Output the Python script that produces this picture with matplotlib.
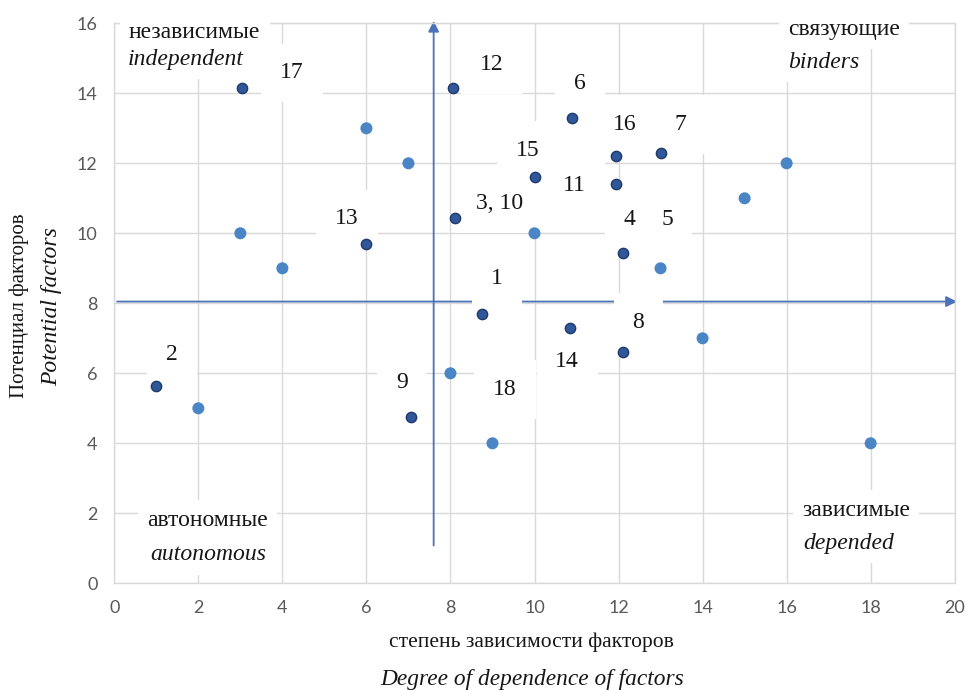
import matplotlib
matplotlib.use("Agg")
from matplotlib import pyplot as plt

# light points (plain markers)
light_x = [2, 3, 4, 6, 7, 8, 9, 10, 13, 14, 15, 16, 18]
light_y = [5, 10, 9, 13, 12, 6, 4, 10, 9, 7, 11, 12, 4]

# dark points (numbered factors)
dark_x = [1.0, 3.05, 8.05, 10.9, 11.95, 13.0, 10.0, 11.95, 8.1, 6.0, 12.1, 8.75, 10.85, 12.1, 7.05]
dark_y = [5.65, 14.15, 14.15, 13.3, 12.2, 12.3, 11.6, 11.4, 10.45, 9.7, 9.45, 7.7, 7.3, 6.6, 4.75]

# number labels
label_text = ['2', '17', '12', '6', '16', '7', '15', '11', '3, 10', '13', '4', '5', '1', '8', '14', '18', '9']
label_x = [1.37, 4.23, 8.99, 11.08, 12.15, 13.46, 9.85, 10.96, 9.17, 5.54, 12.26, 13.16, 9.10, 12.47, 10.78, 9.30, 6.84]
label_y = [6.55, 14.58, 14.81, 14.27, 13.10, 13.10, 12.36, 11.36, 10.84, 10.41, 10.38, 10.38, 8.71, 7.46, 6.35, 5.54, 5.74]

quad_ru = ['независимые', 'связующие', 'автономные', 'зависимые']
quad_en = ['independent', 'binders', 'autonomous', 'depended']

x_ticks = list(range(0, 21, 2))
y_ticks = list(range(0, 17, 2))

W, H = 967, 690
fig = plt.figure(figsize=(W / 100, H / 100), dpi=100)
ax = fig.add_axes([114.3 / W, 1 - 583.3 / H, 840.4 / W, 560.0 / H])

serif = 'Liberation Serif'
grid_c = '#d9d9d9'
txt_c = '#161616'

ax.set_xlim(0, 20)
ax.set_ylim(0, 16)
ax.set_xticks(x_ticks)
ax.set_yticks(y_ticks)
ax.grid(True, color=grid_c, linewidth=1.0, zorder=0)
ax.set_axisbelow(True)
for s in ax.spines.values():
    s.set_color(grid_c)
    s.set_linewidth(1.0)
ax.tick_params(length=0, pad=12, labelsize=13, labelcolor='#595959')
for lb in ax.get_xticklabels() + ax.get_yticklabels():
    lb.set_fontfamily('Lato')

# arrows
arr_c = '#4a72b8'
ax.annotate('', xy=(7.6, 16.15), xytext=(7.6, 1.0), annotation_clip=False,
            arrowprops=dict(arrowstyle='-|>', color=arr_c, lw=1.3, mutation_scale=16), zorder=2)
ax.annotate('', xy=(20.12, 8.05), xytext=(0, 8.05), annotation_clip=False,
            arrowprops=dict(arrowstyle='-|>', color=arr_c, lw=1.3, mutation_scale=16), zorder=2)

# number labels with white boxes
for t, lx, ly in zip(label_text, label_x, label_y):
    ax.text(lx, ly, t, ha='center', va='center', fontsize=17, family=serif, color=txt_c,
            bbox=dict(boxstyle='square,pad=0.8', fc='white', ec='none'), zorder=3)

ax.scatter(light_x, light_y, s=75, color='#4a86c6', edgecolors='none', zorder=5, clip_on=False)
ax.scatter(dark_x, dark_y, s=55, color='#30579a', edgecolors='#1d3a6b', linewidths=1.0, zorder=5)

# quadrant captions (pixel positions of left edges / centers)
quad_pos_ru = [(129, 33), (788, 29), (147, 520), (802, 510)]
quad_pos_en = [(128, 59), (788, 62), (150, 555), (803, 543)]
for t, (px, py) in zip(quad_ru, quad_pos_ru):
    fig.text(px / W, 1 - py / H, t, ha='left', va='center', fontsize=17, family=serif, color=txt_c,
             bbox=dict(boxstyle='square,pad=0.4', fc='white', ec='none'), zorder=6)
for t, (px, py) in zip(quad_en, quad_pos_en):
    fig.text(px / W, 1 - py / H, t, ha='left', va='center', fontsize=17, family=serif, style='italic',
             color=txt_c, bbox=dict(boxstyle='square,pad=0.4', fc='white', ec='none'), zorder=6)

# axis titles
fig.text(531 / W, 1 - 642 / H, 'степень зависимости факторов', ha='center', va='center',
         fontsize=15.5, family=serif, color=txt_c)
fig.text(532 / W, 1 - 679 / H, 'Degree of dependence of factors', ha='center', va='center',
         fontsize=16.8, family=serif, style='italic', color=txt_c)
fig.text(19 / W, 1 - 306 / H, 'Потенциал факторов', ha='center', va='center', rotation=90,
         fontsize=15, family=serif, color=txt_c)
fig.text(52 / W, 1 - 307 / H, 'Potential factors', ha='center', va='center', rotation=90,
         fontsize=17, family=serif, style='italic', color=txt_c)

fig.savefig('out.png', dpi=100)
